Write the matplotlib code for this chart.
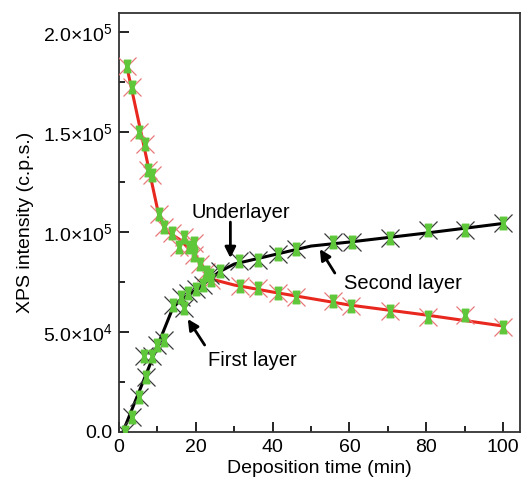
import numpy as np
import matplotlib
matplotlib.use("Agg")
import matplotlib.pyplot as plt
from matplotlib.ticker import MultipleLocator, FixedLocator

plt.rcParams['font.family'] = ['Liberation Sans', 'DejaVu Sans']
plt.rcParams['mathtext.fontset'] = 'custom'
plt.rcParams['mathtext.rm'] = 'Liberation Sans'
plt.rcParams['mathtext.it'] = 'Liberation Sans:italic'
plt.rcParams['mathtext.bf'] = 'Liberation Sans:bold'

# underlayer signal (red) measured points
red_t = [2, 3.3, 5.3, 6.7, 7.5, 8.5, 10.3, 11.8, 13.7, 15.7, 16.9, 18.2, 19.4, 19.6,
         21, 22.7, 24, 31.4, 36.3, 41.5, 46.2, 55.7, 60.5, 70.5, 80.5, 90, 100]
red_i = [183000, 172500, 150000, 144000, 131000, 128500, 109000, 102500, 99500, 92500,
         97500, 92500, 94500, 88500, 84000, 80000, 76000, 72800, 72000, 69500, 67300,
         65700, 63000, 60500, 57700, 58300, 52700]
# guide line through the red points
red_line_t = [2, 10.3, 12, 16, 20, 24, 30, 40, 60, 80, 100]
red_line_i = [183000, 109000, 101000, 96000, 88000, 76500, 73500, 70000, 63500, 58500, 53000]

# overlayer signal (black) measured points
blk_t = [1.5, 3.4, 5.3, 7.0, 6.6, 8.6, 10.0, 11.8, 14.0, 16.2, 17.0, 18.0, 20.0, 21.8,
         23.6, 26.4, 31.3, 36.3, 41.5, 46.2, 55.7, 60.8, 70.5, 80.5, 90, 100]
blk_i = [0, 7700, 17700, 27500, 38000, 38000, 43500, 46000, 63500, 67500, 62000, 69500,
         71500, 73500, 78500, 80500, 85500, 86000, 89000, 91300, 95200, 95200, 96800,
         101000, 101000, 104300]
blk_line_t = [1, 14, 16, 20, 26, 30, 40, 50, 60, 80, 100]
blk_line_i = [0, 62000, 66000, 71000, 80000, 84000, 88500, 93000, 95000, 99500, 104300]

ytick_vals = [0, 50000, 100000, 150000, 200000]
ytick_labels = ['0.0', '5.0×10$^{4}$', '1.0×10$^{5}$', '1.5×10$^{5}$', '2.0×10$^{5}$']

green = '#5ec83a'
hourglass = [(-0.55, 1), (0.55, 1), (0.25, 0), (0.55, -1), (-0.55, -1), (-0.25, 0), (-0.55, 1)]

fig = plt.figure(figsize=(5.22, 4.87), dpi=100)
ax = fig.add_axes([0.228, 0.113, 0.768, 0.860])

ax.plot(red_line_t, red_line_i, color='#e8281e', lw=2.2, zorder=2)
ax.plot(blk_line_t, blk_line_i, color='black', lw=2.2, zorder=2)

ax.plot(red_t, red_i, ls='none', marker='x', ms=13, mew=0.9, color='#e8787a', zorder=3)
ax.plot(blk_t, blk_i, ls='none', marker='x', ms=13, mew=0.9, color='#3a3a3a', zorder=3)
ax.plot(red_t, red_i, ls='none', marker=hourglass, ms=9, color=green, mec=green, zorder=4)
ax.plot(blk_t, blk_i, ls='none', marker=hourglass, ms=9, color=green, mec=green, zorder=4)

ax.set_xlim(0, 104.4)
ax.set_ylim(0, 209500)
ax.xaxis.set_major_locator(MultipleLocator(20))
ax.xaxis.set_minor_locator(MultipleLocator(10))
ax.yaxis.set_major_locator(FixedLocator(ytick_vals))
ax.set_yticklabels(ytick_labels)
ax.yaxis.set_minor_locator(MultipleLocator(25000))
ax.tick_params(which='both', direction='in', labelsize=14, width=1.2)
ax.tick_params(which='major', length=7, pad=5)
ax.tick_params(which='minor', length=4)
for s in ax.spines.values():
    s.set_linewidth(1.3)
    s.set_color('#333333')

ax.set_xlabel('Deposition time (min)', fontsize=14, labelpad=3)
ax.set_ylabel('XPS intensity (c.p.s.)', fontsize=14, labelpad=6)

arrow = dict(arrowstyle='-|>', color='black', lw=2, mutation_scale=16, shrinkA=0, shrinkB=0)
ax.annotate('', xy=(29.0, 87000), xytext=(29.0, 105000), arrowprops=arrow)
ax.text(31.6, 110000, 'Underlayer', fontsize=14.5, ha='center', va='center')
ax.annotate('', xy=(52.3, 91500), xytext=(56.2, 79500), arrowprops=arrow)
ax.text(74, 74500, 'Second layer', fontsize=14.5, ha='center', va='center')
ax.annotate('', xy=(17.9, 56500), xytext=(22.3, 43500), arrowprops=arrow)
ax.text(34.8, 35500, 'First layer', fontsize=14.5, ha='center', va='center')

fig.savefig('out.png', dpi=100)
